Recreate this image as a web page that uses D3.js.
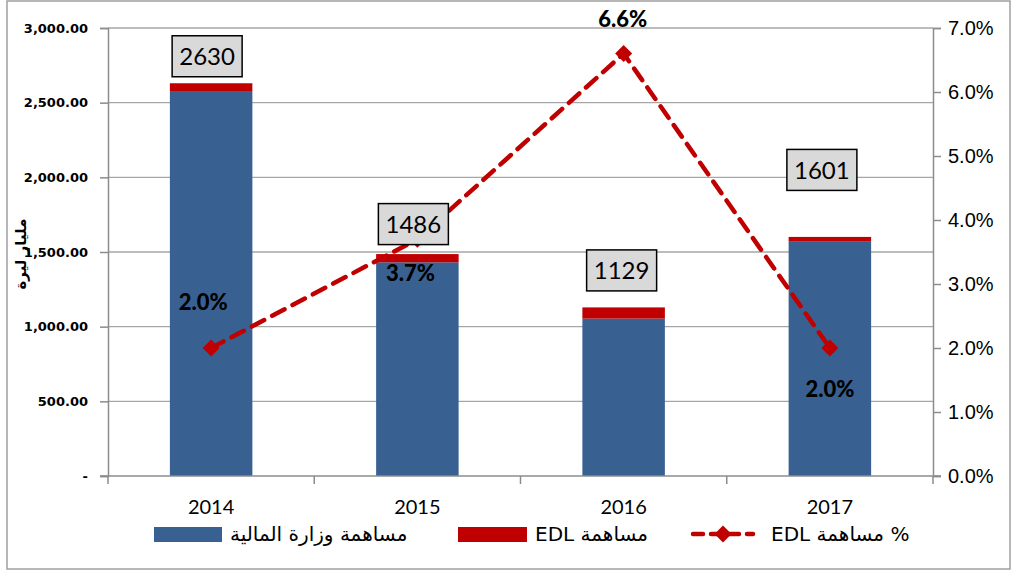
<!DOCTYPE html>
<html>
<head>
<meta charset="utf-8">
<script src="https://cdn.jsdelivr.net/npm/d3@7"></script>
<style>
  body { margin: 0; background: #fff; }
  svg { font-family: Lato, "DejaVu Sans", sans-serif; }
</style>
</head>
<body>
<div id="chart"></div>
<script>
const years = ["2014", "2015", "2016", "2017"];
const ministry = [2578, 1431, 1054, 1569];
const edl = [52, 55, 75, 32];
const edlPct = [2.0, 3.7, 6.6, 2.0];
const leftTicks = [0, 500, 1000, 1500, 2000, 2500, 3000];
const rightTicks = [0, 1, 2, 3, 4, 5, 6, 7];

const legendLabels = ["مساهمة وزارة المالية", "مساهمة EDL", "% مساهمة EDL"];
const yLabel = "مليار ليرة";

// manual label nudges (px), like the hand-placed labels in the original
const totalNudge = [[-4, -27], [-4, -30], [-2, -37], [-8, -67]];
const pctNudge = [[-8, -46], [-7, 34], [-1, -34], [0, 41]];

const width = 1012, height = 572;
const margin = { top: 28, right: 79, bottom: 96, left: 108 };
const blue = "#386192", red = "#c00000";

const svg = d3.select("#chart").append("svg")
  .attr("width", width)
  .attr("height", height);

// outer border
svg.append("rect")
  .attr("x", 7).attr("y", 1)
  .attr("width", width - 9).attr("height", height - 4)
  .attr("fill", "none")
  .attr("stroke", "#a0a0a0")
  .attr("stroke-width", 1.5);

const x0 = margin.left, x1 = width - margin.right;
const yTop = margin.top, yBot = height - margin.bottom;

const x = d3.scaleBand().domain(years).range([x0, x1])
  .paddingInner(0.6).paddingOuter(0.3);
const step = (x1 - x0) / years.length;
const y = d3.scaleLinear().domain([0, 3000]).range([yBot, yTop]);
const y2 = d3.scaleLinear().domain([0, 7]).range([yBot, yTop]);

// gridlines
svg.append("g")
  .selectAll("line")
  .data(leftTicks.slice(1))
  .join("line")
  .attr("x1", x0).attr("x2", x1)
  .attr("y1", d => y(d)).attr("y2", d => y(d))
  .attr("stroke", "#a6a6a6").attr("stroke-width", 1.3);

// left axis
const leftAxis = svg.append("g")
  .attr("transform", "translate(" + x0 + ",0)")
  .call(d3.axisLeft(y).tickValues(leftTicks).tickSize(8).tickPadding(12)
    .tickFormat(d => d === 0 ? "-" : d3.format(",.2f")(d)));
leftAxis.select(".domain").attr("stroke", "#8c8c8c").attr("stroke-width", 1.5);
leftAxis.selectAll(".tick line").attr("stroke", "#8c8c8c").attr("stroke-width", 1.5);
leftAxis.selectAll("text")
  .style("font-family", "'DejaVu Sans', sans-serif")
  .style("font-size", "13px").style("font-weight", "bold").attr("fill", "#000");

// right axis
const rightAxis = svg.append("g")
  .attr("transform", "translate(" + x1 + ",0)")
  .call(d3.axisRight(y2).tickValues(rightTicks).tickSize(8).tickPadding(7)
    .tickFormat(d => d.toFixed(1) + "%"));
rightAxis.select(".domain").attr("stroke", "#8c8c8c").attr("stroke-width", 1.5);
rightAxis.selectAll(".tick line").attr("stroke", "#8c8c8c").attr("stroke-width", 1.5);
rightAxis.selectAll("text").style("font-size", "20px").attr("fill", "#000");

// bars
const bars = svg.append("g");
bars.selectAll("rect.m")
  .data(years)
  .join("rect")
  .attr("class", "m")
  .attr("x", d => x(d))
  .attr("width", x.bandwidth())
  .attr("y", (d, i) => y(ministry[i]))
  .attr("height", (d, i) => y(0) - y(ministry[i]))
  .attr("fill", blue);
bars.selectAll("rect.e")
  .data(years)
  .join("rect")
  .attr("class", "e")
  .attr("x", d => x(d))
  .attr("width", x.bandwidth())
  .attr("y", (d, i) => y(ministry[i] + edl[i]))
  .attr("height", (d, i) => y(ministry[i]) - y(ministry[i] + edl[i]))
  .attr("fill", red);

// x axis
const xa = svg.append("g");
xa.append("line")
  .attr("x1", x0 - 8).attr("x2", x1 + 8)
  .attr("y1", yBot).attr("y2", yBot)
  .attr("stroke", "#8c8c8c").attr("stroke-width", 1.5);
xa.selectAll("line.t")
  .data(d3.range(years.length + 1))
  .join("line")
  .attr("class", "t")
  .attr("x1", i => x0 + i * step).attr("x2", i => x0 + i * step)
  .attr("y1", yBot).attr("y2", yBot + 8)
  .attr("stroke", "#8c8c8c").attr("stroke-width", 1.5);
xa.selectAll("text")
  .data(years)
  .join("text")
  .attr("x", d => x(d) + x.bandwidth() / 2)
  .attr("y", yBot + 38)
  .attr("text-anchor", "middle")
  .style("font-size", "20px")
  .text(d => d);

// y label
svg.append("text")
  .attr("transform", "translate(26," + 254 + ") rotate(-90)")
  .attr("text-anchor", "middle")
  .attr("direction", "rtl")
  .style("font-family", "'DejaVu Sans', sans-serif")
  .style("font-size", "15px").style("font-weight", "bold")
  .text(yLabel);

// pct line
const cx = d => x(d) + x.bandwidth() / 2;
const linePts = years.map((d, i) => [cx(d), y2(edlPct[i])]);
svg.append("path")
  .attr("d", d3.line()(linePts))
  .attr("fill", "none")
  .attr("stroke", red)
  .attr("stroke-width", 4.5)
  .attr("stroke-dasharray", "14,9")
  .attr("stroke-linecap", "round");
svg.append("g")
  .selectAll("path")
  .data(linePts)
  .join("path")
  .attr("transform", d => "translate(" + d[0] + "," + d[1] + ") rotate(45)")
  .attr("d", "M-6,-6H6V6H-6Z")
  .attr("fill", red);

// pct labels
svg.append("g")
  .selectAll("text")
  .data(years)
  .join("text")
  .attr("x", (d, i) => cx(d) + pctNudge[i][0])
  .attr("y", (d, i) => y2(edlPct[i]) + pctNudge[i][1])
  .attr("dy", "0.35em")
  .attr("text-anchor", "middle")
  .style("font-size", "22px").style("font-weight", "900")
  .text((d, i) => edlPct[i].toFixed(1) + "%");

// total labels
const tg = svg.append("g")
  .selectAll("g")
  .data(years)
  .join("g")
  .attr("transform", (d, i) => "translate(" + (cx(d) + totalNudge[i][0]) + "," +
    (y(ministry[i] + edl[i]) + totalNudge[i][1]) + ")");
tg.append("rect")
  .attr("x", -35).attr("y", -20.5)
  .attr("width", 70).attr("height", 41)
  .attr("fill", "#d9d9d9")
  .attr("stroke", "#000").attr("stroke-width", 1.5);
tg.append("text")
  .attr("text-anchor", "middle")
  .attr("dy", "0.36em")
  .style("font-size", "24px")
  .text((d, i) => Math.round(ministry[i] + edl[i]));

// legend
const ly = 534;
const lg = svg.append("g");
lg.append("rect").attr("x", 154).attr("y", ly - 7).attr("width", 68).attr("height", 15).attr("fill", blue);
lg.append("rect").attr("x", 458).attr("y", ly - 7).attr("width", 69).attr("height", 15).attr("fill", red);
lg.append("line").attr("x1", 693).attr("x2", 753).attr("y1", ly).attr("y2", ly)
  .attr("stroke", red).attr("stroke-width", 4.5)
  .attr("stroke-dasharray", "10,8").attr("stroke-linecap", "round");
lg.append("path").attr("transform", "translate(723," + ly + ") rotate(45)")
  .attr("d", "M-6,-6H6V6H-6Z").attr("fill", red);
const legendX = [230, 535, 771];
lg.selectAll("text")
  .data(legendLabels)
  .join("text")
  .attr("x", (d, i) => legendX[i])
  .attr("y", ly)
  .attr("dy", "0.35em")
  .attr("direction", "rtl")
  .attr("text-anchor", "end")
  .style("font-family", "'DejaVu Sans', sans-serif")
  .style("font-size", "20px")
  .text(d => d);
</script>
</body>
</html>
